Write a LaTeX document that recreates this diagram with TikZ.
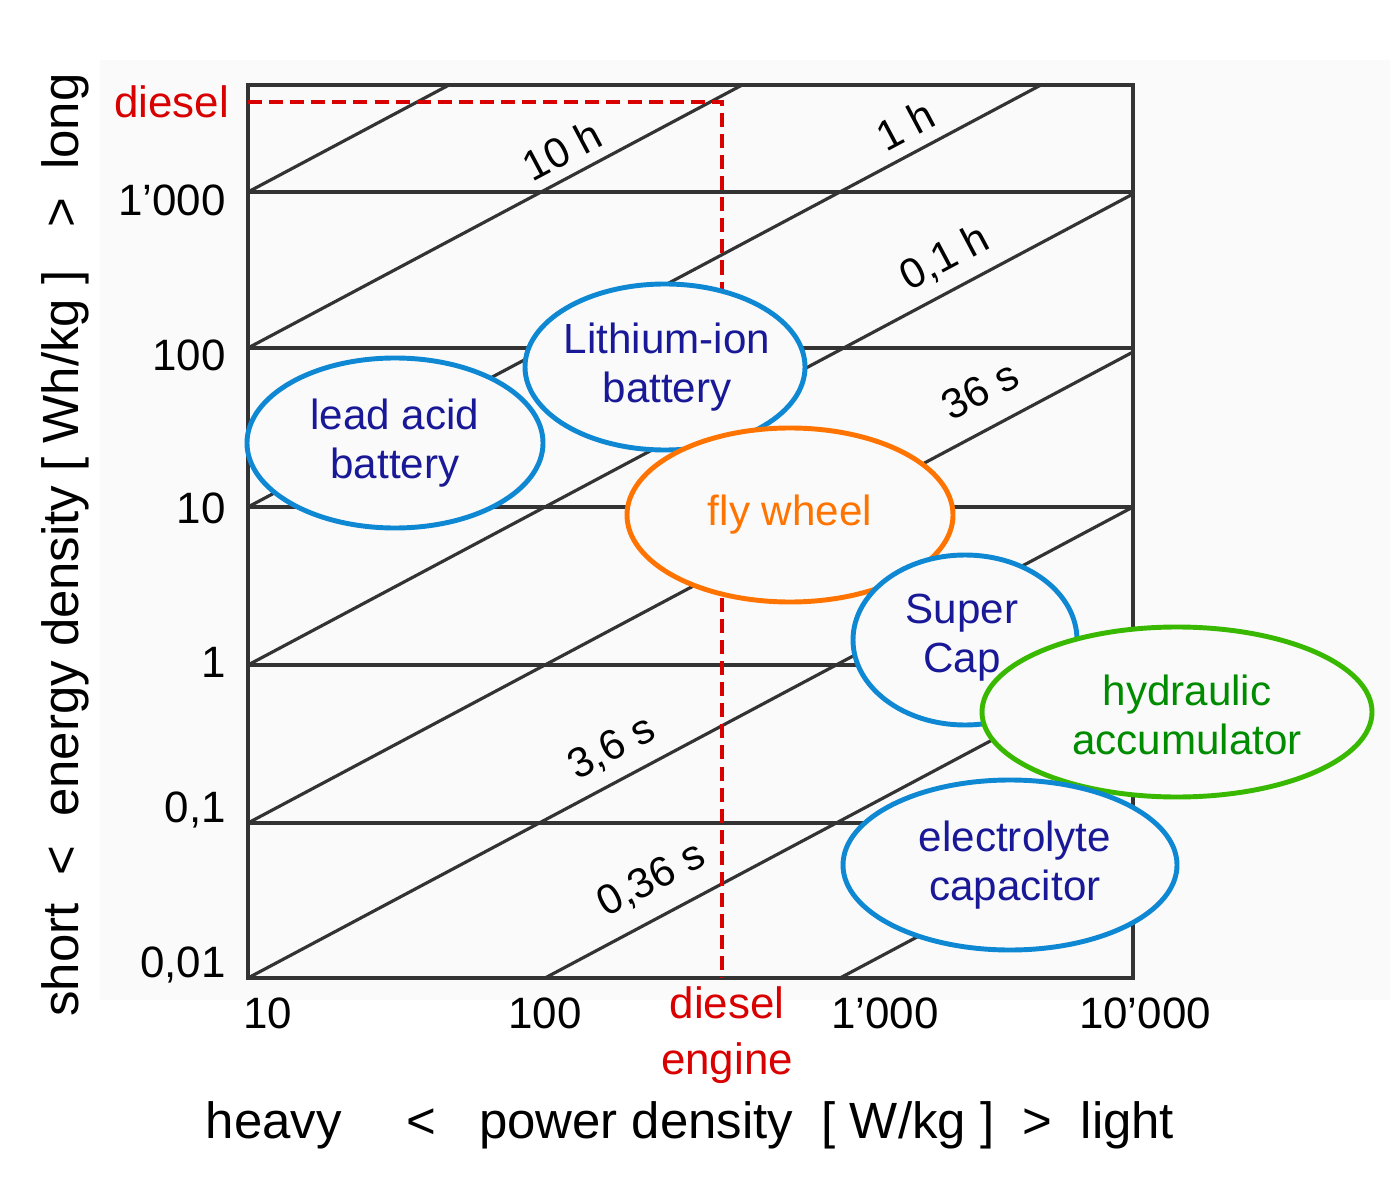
\documentclass[tikz,border=0pt]{standalone}
\usepackage{fontspec}
\setmainfont{Liberation Sans}
\begin{document}
\begin{tikzpicture}[x=0.02cm,y=-0.02cm,
  tick/.style={font=\fontsize{25}{30}\selectfont},
  grid/.style={line width=1.8pt,black!80},
  lbl/.style={font=\fontsize{24}{28}\selectfont,align=center},
  dlbl/.style={font=\fontsize{24}{26}\selectfont,rotate=28,fill=gray!4,inner sep=1pt},
  ell/.style={line width=2.8pt,fill=gray!4}]
\useasboundingbox (0,0) rectangle (1398,1195);
\fill[gray!4] (100,60) rectangle (1390,1000);
% frame and grid
\begin{scope}
\clip (248,85) rectangle (1133,978);
\foreach \y in {192,348,507,665,823} \draw[grid] (248,\y) -- (1133,\y);
\foreach \x in {248,545,840} \draw[grid] (\x,978) -- ++(1180,-628);
\foreach \y in {823,665,507,348,192} \draw[grid] (248,\y) -- ++(1180,-628);
\end{scope}
\draw[grid] (248,85) rectangle (1133,978);
% diagonal labels
\node[dlbl] (t10h) at (562,150) {10 h};
\node[dlbl] (t1h) at (905,125) {1 h};
\node[dlbl] (t01h) at (945,258) {0,1 h};
\node[dlbl] (t36s) at (980,390) {36 s};
\node[dlbl] (t36) at (612,748) {3,6 s};
\node[dlbl] (t036) at (652,880) {0,36 s};
% diesel dashed
\coordinate (dl) at (248,102);
\coordinate (dc) at (722,102);
\coordinate (db) at (722,978);
\draw[red!85!black,line width=2pt,dash pattern=on 8pt off 4pt] (dl) -- (dc) -- (db);
\node[tick,text=red!85!black,anchor=east] (diesel) at (235,102) {diesel};
\node[tick,text=red!85!black,align=center] (deng) at (727,1035) {diesel\\[2pt]engine};
% ticks
\node[tick,anchor=east] (y1000) at (232,200) {1'000};
\node[tick,anchor=east] (y100) at (232,355) {100};
\node[tick,anchor=east] (y10) at (232,508) {10};
\node[tick,anchor=east] (y1) at (232,662) {1};
\node[tick,anchor=east] (y01) at (232,810) {0,1};
\node[tick,anchor=east] (y001) at (232,965) {0,01};
\node[tick] (x10) at (268,1013) {10};
\node[tick] (x100) at (545,1013) {100};
\node[tick] (x1000) at (885,1013) {1'000};
\node[tick] (x10000) at (1145,1013) {10'000};
% axis titles
\node[font=\fontsize{29}{32}\selectfont] (xt) at (690,1125) {heavy\quad\ <\ \ \ power density\ \ [ W/kg ]\ \ >\ \ light};
\node[font=\fontsize{29}{32}\selectfont,rotate=90] (yt) at (65,545) {short\ \ <\ \ energy density [ Wh/kg ]\ \ \ >\ \ long};
% ellipses
\draw[ell,draw=cyan!70!blue] (395,443) ellipse (148 and 85);
\node[lbl,text=blue!55!black!90] (lead) at (395,443) {lead acid\\battery};
\draw[ell,draw=cyan!70!blue] (665,367) ellipse (140 and 83);
\node[lbl,text=blue!55!black!90] (li) at (667,367) {Lithium-ion\\battery};
\draw[ell,draw=orange!90!red] (790,515) ellipse (163 and 87);
\node[lbl,text=orange!90!red] (fly) at (790,515) {fly wheel};
\draw[ell,draw=cyan!70!blue] (965,640) ellipse (112 and 85);
\node[lbl,text=blue!55!black!90] (sc) at (962,638) {Super\\Cap};
\draw[ell,draw=green!60!black!70!lime] (1177,712) ellipse (195 and 85);
\node[lbl,text=green!55!black] (hyd) at (1187,715) {hydraulic\\accumulator};
\draw[ell,draw=cyan!70!blue] (1010,865) ellipse (167 and 85);
\node[lbl,text=blue!55!black!90] (el) at (1015,865) {electrolyte\\capacitor};
\end{tikzpicture}
\end{document}
